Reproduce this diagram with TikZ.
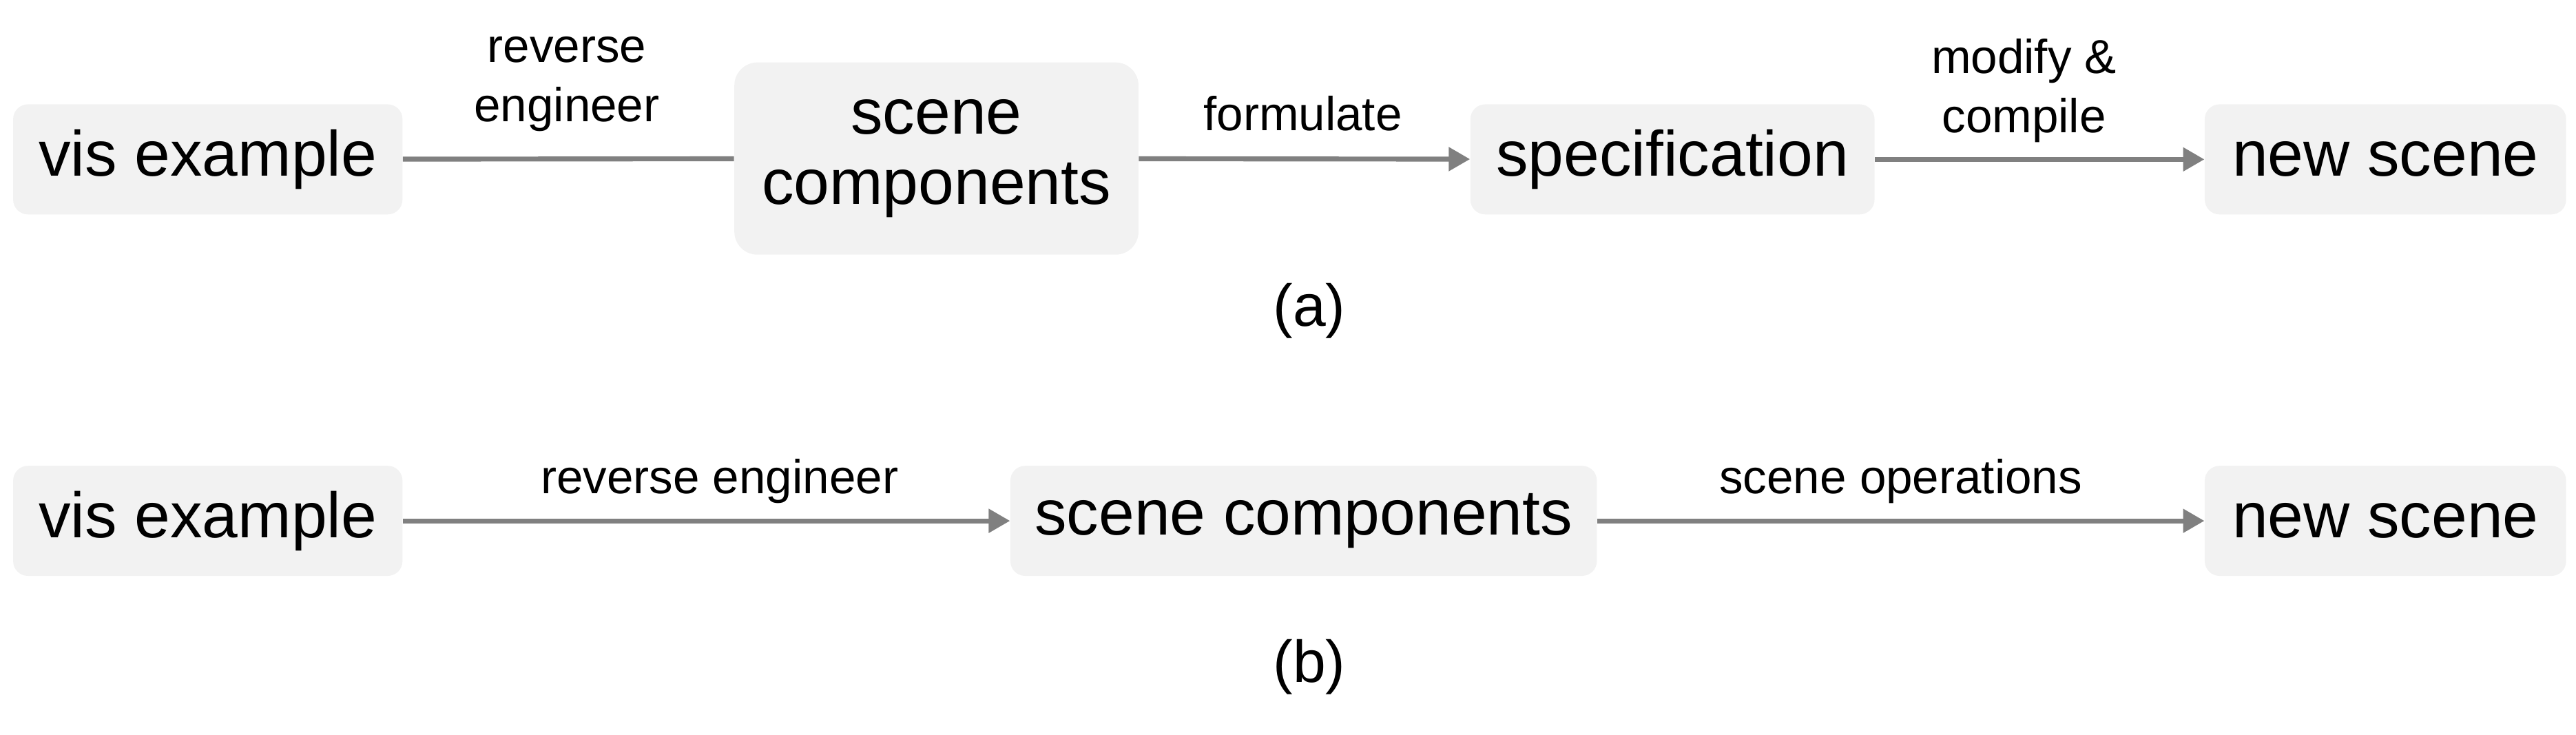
\documentclass[tikz,border=0pt]{standalone}
\usepackage{fontspec}
\setmainfont{Liberation Sans}
\usetikzlibrary{arrows.meta}
\definecolor{boxg}{HTML}{F2F2F2}
\definecolor{arrg}{HTML}{808080}
\tikzset{
 bx/.style={fill=boxg,rounded corners=9pt,inner sep=0pt,align=center,font=\fontsize{39}{43}\selectfont},
 ar/.style={draw=arrg,line width=3pt,-{Triangle[length=13pt,width=14pt]}},
 ln/.style={draw=arrg,line width=3pt},
 lb/.style={font=\fontsize{29}{36}\selectfont,align=center},
}
\begin{document}
\begin{tikzpicture}[x=1pt,y=-1pt]
\useasboundingbox (0,0) rectangle (1568,447.3);
% row a
\node[bx,minimum width=237pt,minimum height=67pt] (a1) at (126.5,97) {vis example};
\node[bx,minimum width=246pt,minimum height=117pt,rounded corners=14pt] (a2) at (570,96.5) {scene\\components};
\node[bx,minimum width=246pt,minimum height=67pt] (a3) at (1018,97) {specification};
\node[bx,minimum width=220pt,minimum height=67pt] (a4) at (1452,97) {new scene};
\draw[ln] (a1) -- (a2);
\draw[ar] (a2) -- (a3);
\draw[ar] (a3) -- (a4);
\node[lb] (l1) at (345,51) {reverse\\engineer};
\node[lb] (l2) at (793,69) {formulate};
\node[lb] (l3) at (1232,55) {modify \&\\compile};
\node[font=\fontsize{36}{40}\selectfont] (ca) at (797,189) {(a)};
% row b
\node[bx,minimum width=237pt,minimum height=67pt] (b1) at (126.5,317) {vis example};
\node[bx,minimum width=357pt,minimum height=67pt] (b2) at (793.5,317) {scene components};
\node[bx,minimum width=220pt,minimum height=67pt] (b3) at (1452,317) {new scene};
\draw[ar] (b1) -- (b2);
\draw[ar] (b2) -- (b3);
\node[lb] (m1) at (438,293) {reverse engineer};
\node[lb] (m2) at (1157,293) {scene operations};
\node[font=\fontsize{36}{40}\selectfont] (cb) at (797,406) {(b)};
\end{tikzpicture}
\end{document}
